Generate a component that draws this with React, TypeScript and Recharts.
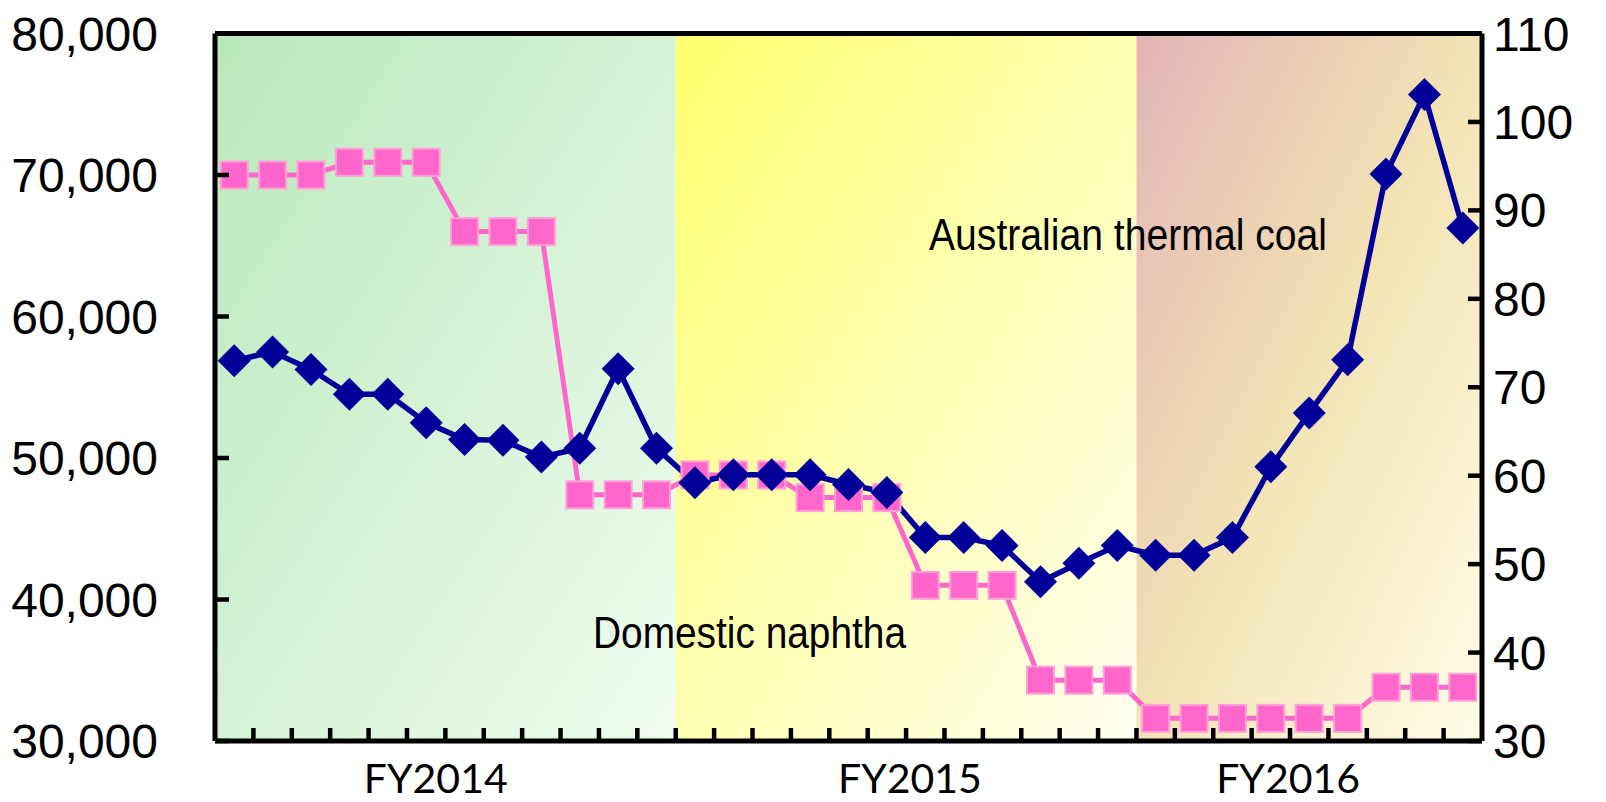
import React from 'react';
import {
  ComposedChart, Line, XAxis, YAxis, ReferenceArea, ReferenceLine,
} from 'recharts';

// Apr 2014 .. Dec 2016, one point per month
const MONTHS = [
  '2014-04', '2014-05', '2014-06', '2014-07', '2014-08', '2014-09', '2014-10', '2014-11', '2014-12',
  '2015-01', '2015-02', '2015-03', '2015-04', '2015-05', '2015-06', '2015-07', '2015-08', '2015-09',
  '2015-10', '2015-11', '2015-12', '2016-01', '2016-02', '2016-03', '2016-04', '2016-05', '2016-06',
  '2016-07', '2016-08', '2016-09', '2016-10', '2016-11', '2016-12',
];

// domestic naphtha, yen/kl (left axis)
const NAPHTHA = [
  70000, 70000, 70000, 70900, 70900, 70900, 66000, 66000, 66000,
  47400, 47400, 47400, 48800, 48800, 48800, 47200, 47200, 47200,
  41000, 41000, 41000, 34300, 34300, 34300, 31600, 31600, 31600,
  31600, 31600, 31600, 33800, 33800, 33800,
];

// Australian thermal coal, $/t (right axis)
const COAL = [
  73.0, 74.0, 72.0, 69.2, 69.2, 66.0, 64.1, 64.0, 62.1,
  63.1, 72.1, 63.1, 59.2, 60.1, 60.1, 60.1, 59.0, 58.1,
  53.0, 53.0, 52.1, 48.0, 50.1, 52.1, 51.0, 51.0, 53.0,
  61.0, 67.1, 73.1, 94.1, 103.1, 88.0,
];

// fiscal year bands (in month index units) and their labels
const FY_LABELS = ['FY2014', 'FY2015', 'FY2016'];
const FY_START = [0, 12, 24];
const FY_END = [12, 24, 33];
const FY_LABEL_POS = [5.75, 18.1, 27.95];
const FY_FILLS = ['url(#gGreen)', 'url(#gYellow)', 'url(#gRose)'];

const LEFT_TICKS = [30000, 40000, 50000, 60000, 70000, 80000];
const RIGHT_TICKS = [30, 40, 50, 60, 70, 80, 90, 100, 110];

const MONTH_EDGES = MONTHS.slice(1).map((_, i) => i + 1);

const data = MONTHS.map((m, i) => ({
  month: m,
  x: i + 0.5,
  naphtha: NAPHTHA[i],
  coal: COAL[i],
}));

const NUM_FONT = "'Liberation Sans', Arial, sans-serif";

function XTick(props: any) {
  const { x, y, payload } = props;
  const li = FY_LABEL_POS.indexOf(payload.value);
  if (li >= 0) {
    return (
      <text x={x} y={y + 52} textAnchor="middle" fontFamily="Lato, 'Open Sans', sans-serif"
        fontSize={41} fill="#000">{FY_LABELS[li]}</text>
    );
  }
  return <line x1={x} x2={x} y1={y} y2={y - 13} stroke="#000" strokeWidth={4.5} />;
}

function LeftTick(props: any) {
  const { x, y, payload } = props;
  return (
    <g>
      <line x1={x} x2={x + 14} y1={y} y2={y} stroke="#000" strokeWidth={4.5} />
      <text x={x - 57} y={y} dy={17} textAnchor="end" fontFamily={NUM_FONT} fontSize={48} fill="#000">
        {payload.value.toLocaleString('en-US')}
      </text>
    </g>
  );
}

function RightTick(props: any) {
  const { x, y, payload } = props;
  return (
    <g>
      <line x1={x - 14} x2={x} y1={y} y2={y} stroke="#000" strokeWidth={4.5} />
      <text x={x + 11} y={y} dy={17} textAnchor="start" fontFamily={NUM_FONT} fontSize={48} fill="#000">
        {payload.value}
      </text>
    </g>
  );
}

const renderDiamond = (p: any) => {
  const { cx, cy, index } = p;
  const h = 16.5;
  return (
    <polygon key={`d${index}`}
      points={`${cx},${cy - h} ${cx + h},${cy} ${cx},${cy + h} ${cx - h},${cy}`}
      fill="#000099" />
  );
};

const renderSquare = (p: any) => {
  const { cx, cy, index } = p;
  return (
    <rect key={`s${index}`} x={cx - 13.5} y={cy - 13.5} width={27} height={27}
      fill="#FF66CC" stroke="#FFA0D8" strokeWidth={2} />
  );
};

export default function App() {
  return (
    <div style={{ position: 'absolute', left: 0, top: 0, width: 1606, height: 802, background: '#fff' }}>
      <ComposedChart width={1606} height={802} data={data}
        margin={{ top: 33.5, right: 0, bottom: 0, left: 0 }}>
        <defs>
          <linearGradient id="gGreen" x1="0" y1="0" x2="1" y2="1">
            <stop offset="0%" stopColor="#B9E8BA" />
            <stop offset="50%" stopColor="#D4F3D5" />
            <stop offset="100%" stopColor="#F0FCF0" />
          </linearGradient>
          <linearGradient id="gYellow" x1="0" y1="0" x2="1" y2="1">
            <stop offset="0%" stopColor="#FFFF6E" />
            <stop offset="50%" stopColor="#FFFFB2" />
            <stop offset="100%" stopColor="#FFFFF0" />
          </linearGradient>
          <linearGradient id="gRose" x1="0" y1="0" x2="1" y2="1">
            <stop offset="0%" stopColor="#E2B4B6" />
            <stop offset="50%" stopColor="#F3E3B4" />
            <stop offset="100%" stopColor="#FFFEE8" />
          </linearGradient>
        </defs>

        {FY_LABELS.map((fy, i) => (
          <ReferenceArea key={fy} yAxisId="left" x1={FY_START[i]} x2={FY_END[i]}
            fill={FY_FILLS[i]} fillOpacity={1} stroke="none" />
        ))}

        <XAxis dataKey="x" type="number" domain={[0, 33]} allowDataOverflow
          ticks={[...MONTH_EDGES, ...FY_LABEL_POS]} interval={0}
          height={61} tickSize={0} tickMargin={0} tickLine={false}
          axisLine={{ stroke: '#000', strokeWidth: 5 }} tick={XTick} />
        <YAxis yAxisId="left" orientation="left" domain={[30000, 80000]} ticks={LEFT_TICKS}
          width={215} tickSize={0} tickMargin={0} tickLine={false} interval={0}
          axisLine={{ stroke: '#000', strokeWidth: 5 }} tick={LeftTick} />
        <YAxis yAxisId="right" orientation="right" domain={[30, 110]} ticks={RIGHT_TICKS}
          width={124} tickSize={0} tickMargin={0} tickLine={false} interval={0}
          axisLine={{ stroke: '#000', strokeWidth: 5 }} tick={RightTick} />

        <ReferenceLine yAxisId="left" y={80000} stroke="#000" strokeWidth={5} />

        <Line yAxisId="left" dataKey="naphtha" type="linear" stroke="#FF66CC" strokeWidth={5}
          dot={renderSquare} activeDot={false} isAnimationActive={false} />
        <Line yAxisId="right" dataKey="coal" type="linear" stroke="#000099" strokeWidth={5.5}
          dot={renderDiamond} activeDot={false} isAnimationActive={false} />
      </ComposedChart>

      <svg width={1606} height={802} style={{ position: 'absolute', left: 0, top: 0, pointerEvents: 'none' }}>
        <text x={929} y={250} fontSize={45} textLength={398} lengthAdjust="spacingAndGlyphs"
          fontFamily="'Liberation Sans Narrow', 'Liberation Sans', Arial, sans-serif" fill="#000">
          Australian thermal coal
        </text>
        <text x={593} y={648} fontSize={45} textLength={313} lengthAdjust="spacingAndGlyphs"
          fontFamily="'Liberation Sans Narrow', 'Liberation Sans', Arial, sans-serif" fill="#000">
          Domestic naphtha
        </text>
      </svg>
    </div>
  );
}
